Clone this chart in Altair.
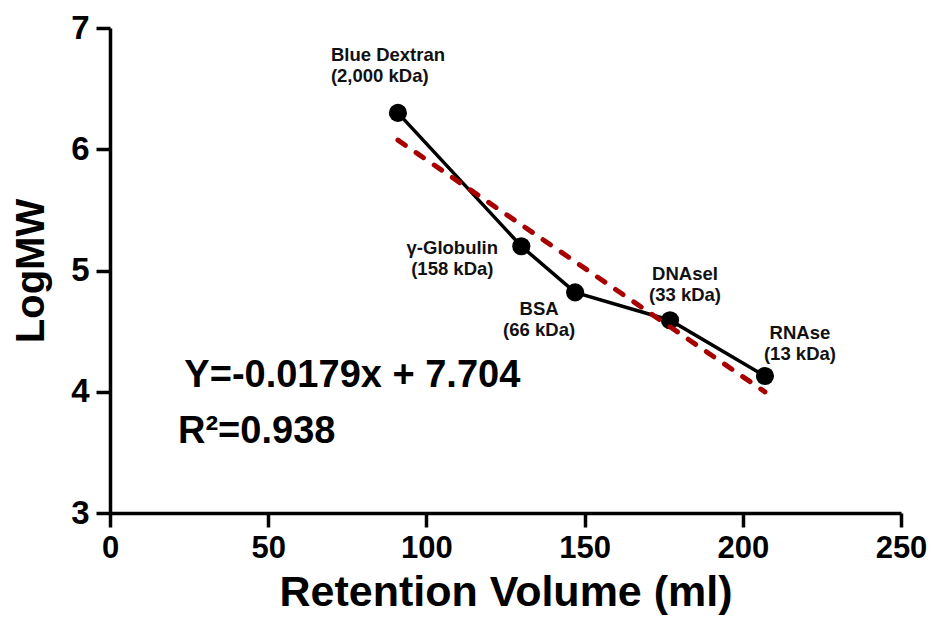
import altair as alt
import pandas as pd

# ---- data ----
proteins = ["Blue Dextran", "γ-Globulin", "BSA", "DNAseI", "RNAse"]
mol_sizes = ["(2,000 kDa)", "(158 kDa)", "(66 kDa)", "(33 kDa)", "(13 kDa)"]
retention = [91, 130, 147, 177, 207]
log_mw = [6.30, 5.20, 4.82, 4.59, 4.13]

fit_x = [91, 207]
fit_y = [6.075, 3.999]

x_ticks = [0, 50, 100, 150, 200, 250]
y_ticks = [3, 4, 5, 6, 7]

equation_text = "Y=-0.0179x + 7.704"
r2_text = "R²=0.938"

FONT = "Liberation Sans"

df = pd.DataFrame({
    "protein": proteins,
    "label": [p + "\n" + s for p, s in zip(proteins, mol_sizes)],
    "ret": retention,
    "logmw": log_mw,
})
fit_df = pd.DataFrame({"ret": fit_x, "logmw": fit_y})

xs = alt.Scale(domain=[0, 250], nice=False, zero=False)
ys = alt.Scale(domain=[3, 7], nice=False, zero=False)

x_enc = alt.X("ret:Q", scale=xs,
              axis=alt.Axis(values=x_ticks, format="d", title="Retention Volume (ml)",
                            titlePadding=8, labelPadding=6, labelFontSize=31,
                            titleFontSize=43))
y_enc = alt.Y("logmw:Q", scale=ys,
              axis=alt.Axis(values=y_ticks, format="d", title="LogMW",
                            titlePadding=19, labelPadding=7, labelFontSize=33,
                            titleFontSize=40))

base = alt.Chart(df)

line = base.mark_line(color="black", strokeWidth=3.5).encode(x=x_enc, y=y_enc)
pts = base.mark_circle(color="black", size=330, opacity=1).encode(x="ret:Q", y="logmw:Q")

fit = alt.Chart(fit_df).mark_line(
    color="#A80000", strokeWidth=5, strokeDash=[9, 13], strokeCap="round"
).encode(x="ret:Q", y="logmw:Q")

label_style = {
    "Blue Dextran": ("left", -67, -52),
    "γ-Globulin": ("center", -69, 8),
    "BSA": ("center", -36, 23),
    "DNAseI": ("center", 15, -40),
    "RNAse": ("center", 35, -37),
}
label_layers = []
for name, (al, ddx, ddy) in label_style.items():
    label_layers.append(
        base.transform_filter(alt.datum.protein == name).mark_text(
            align=al, baseline="alphabetic", dx=ddx, dy=ddy, lineBreak="\n",
            lineHeight=21, font=FONT, fontSize=18.5, fontWeight="bold", color="#111111"
        ).encode(x="ret:Q", y="logmw:Q", text="label:N")
    )

eq = alt.Chart(pd.DataFrame({"t": [equation_text]})).mark_text(
    align="left", baseline="alphabetic", font=FONT, fontSize=38, fontWeight="bold", color="black"
).encode(x=alt.datum(23.5), y=alt.datum(4.04), text="t:N")

r2 = alt.Chart(pd.DataFrame({"t": [r2_text]})).mark_text(
    align="left", baseline="alphabetic", font=FONT, fontSize=38, fontWeight="bold", color="black"
).encode(x=alt.datum(21.5), y=alt.datum(3.58), text="t:N")

chart = alt.layer(line, pts, fit, *label_layers, eq, r2).properties(
    width=791, height=485,
    padding={"left": 102, "top": 20, "right": 26, "bottom": 104},
    autosize=alt.AutoSizeParams(type="none"),
).configure_view(stroke=None).configure_axis(
    grid=False,
    domainColor="black", domainWidth=3.5,
    tickColor="black", tickWidth=3.5, tickSize=14,
    labelFont=FONT, labelFontWeight="bold", labelColor="black",
    titleFont=FONT, titleFontWeight="bold", titleColor="black",
    labelFlush=False, labelOverlap=False,
)

chart.save("out.html", embed_options={"renderer": "svg", "actions": False})
